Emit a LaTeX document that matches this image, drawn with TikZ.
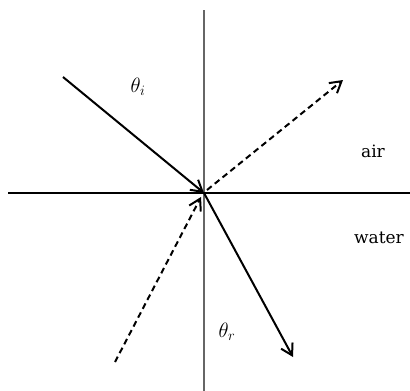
\documentclass[tikz,border=0pt]{standalone}
\usepackage{fontspec}
\setmainfont{DejaVu Serif}
\usetikzlibrary{arrows.meta}
\begin{document}
\begin{tikzpicture}[x=1pt,y=-1pt,
  ray/.style={line width=2pt,-{Straight Barb[length=11pt,width=13pt,line width=2pt]}},
  dray/.style={ray,dash pattern=on 6pt off 4pt},
  lbl/.style={font=\fontsize{17}{20}\selectfont,inner sep=0pt},
  ang/.style={font=\fontsize{20}{24}\selectfont,inner sep=0pt}]
\useasboundingbox (0,0) rectangle (410,391);
\coordinate (O) at (204,193);
\coordinate (ntop) at (204,10);
\coordinate (nbot) at (204,391);
\coordinate (sl) at (8,193);
\coordinate (sr) at (410,193);
\coordinate (inc) at (63,77);
\coordinate (refr) at (293,357);
\coordinate (dstart) at (115,362);
\coordinate (dtip) at (201,197);
\coordinate (dfrom) at (207,190);
\coordinate (dend) at (343,80);
\draw[gray!80!black,line width=1.3pt] (ntop) -- (nbot);
\draw[line width=2.2pt] (sl) -- (sr);
\draw[ray] (inc) -- (O);
\draw[ray] (O) -- (refr);
\draw[dray] (dstart) -- (dtip);
\draw[dray] (dfrom) -- (dend);
\node[ang] (ti) at (138,87) {$\theta_i$};
\node[ang] (tr) at (227,332) {$\theta_r$};
\node[lbl] (air) at (373,151) {air};
\node[lbl] (water) at (379,238) {water};
\end{tikzpicture}
\end{document}
